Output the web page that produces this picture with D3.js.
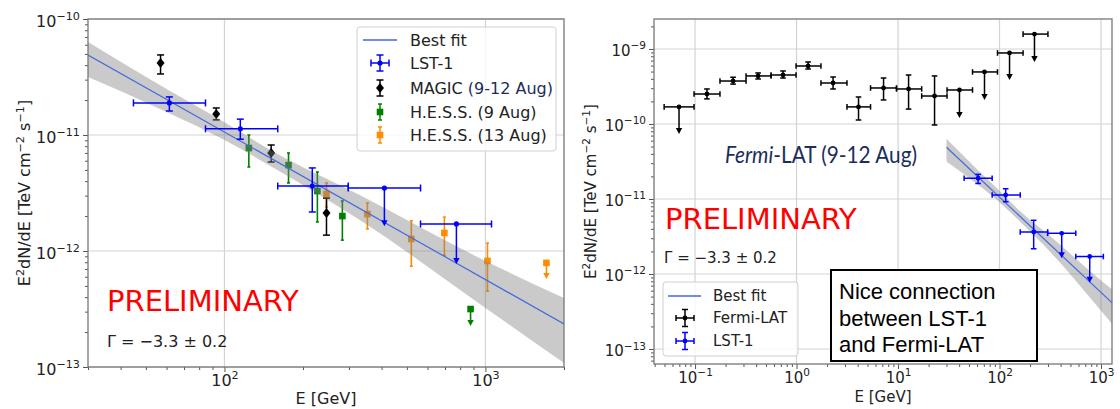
<!DOCTYPE html>
<html>
<head>
<meta charset="utf-8">
<script src="https://cdn.jsdelivr.net/npm/d3@7"></script>
<style>
  body { margin: 0; background: #fff; }
</style>
</head>
<body>
<div id="chart"></div>
<script>
// ---- LST-1 (shared by both panels) ----
const lstE   = [61.5, 115, 217, 410, 774];
const lstELo = [44.8, 84.6, 160, 298, 564];
const lstEHi = [84.6, 160, 298, 564, 1055];
const lstF   = [1.89e-11, 1.13e-11, 3.63e-12, 3.49e-12, 1.71e-12];
const lstFLo = [1.61e-11, 9.2e-12, 2.17e-12, 1.67e-12, 7.9e-13];
const lstFHi = [2.13e-11, 1.37e-11, 5.2e-12, 3.49e-12, 1.71e-12];
const lstUL  = [false, false, false, true, true];

// ---- MAGIC (9-12 Aug) ----
const magicE   = [56.9, 93, 151, 246];
const magicF   = [4.18e-11, 1.52e-11, 7.0e-12, 2.13e-12];
const magicFLo = [3.36e-11, 1.35e-11, 5.85e-12, 1.37e-12];
const magicFHi = [4.9e-11, 1.71e-11, 8.2e-12, 2.86e-12];

// ---- H.E.S.S. (9 Aug) ----
const hess9E   = [124, 176, 227, 283, 877];
const hess9F   = [7.72e-12, 5.5e-12, 3.29e-12, 2.0e-12, 3.16e-13];
const hess9FLo = [5.3e-12, 3.86e-12, 1.78e-12, 1.24e-12, 2.3e-13];
const hess9FHi = [1.0e-11, 7.0e-12, 4.8e-12, 2.7e-12, 3.16e-13];
const hess9UL  = [false, false, false, false, true];

// ---- H.E.S.S. (13 Aug) ----
const hess13E   = [246, 353, 520, 696, 1018, 1713];
const hess13F   = [3.1e-12, 2.08e-12, 1.27e-12, 1.43e-12, 8.2e-13, 7.9e-13];
const hess13FLo = [2.39e-12, 1.55e-12, 7.4e-13, 9.2e-13, 4.5e-13, 5.85e-13];
const hess13FHi = [3.86e-12, 2.6e-12, 1.82e-12, 1.96e-12, 1.17e-12, 7.9e-13];
const hess13UL  = [false, false, false, false, false, true];

// ---- Fermi-LAT (9-12 Aug) ----
const fermiE   = [0.0695, 0.131, 0.237, 0.418, 0.736, 1.30, 2.29, 4.08, 7.2, 12.7, 22.9, 40.3, 71.1, 125.5, 221];
const fermiELo = [0.0496, 0.0977, 0.176, 0.318, 0.561, 0.989, 1.74, 3.14, 5.36, 9.66, 17.1, 30.4, 54.2, 95.5, 170.6];
const fermiEHi = [0.0977, 0.176, 0.318, 0.561, 0.989, 1.74, 3.14, 5.36, 9.66, 17.1, 30.4, 54.2, 95.5, 170.6, 300];
const fermiF   = [1.69e-10, 2.51e-10, 3.74e-10, 4.37e-10, 4.5e-10, 5.93e-10, 3.52e-10, 1.69e-10, 3.02e-10, 2.93e-10, 2.36e-10, 2.84e-10, 4.94e-10, 8.85e-10, 1.58e-9];
const fermiFLo = [7.6e-11, 2.16e-10, 3.4e-10, 3.98e-10, 4.1e-10, 5.41e-10, 2.93e-10, 1.13e-10, 2.09e-10, 1.58e-10, 9.7e-11, 1.24e-10, 2.16e-10, 3.98e-10, 6.9e-10];
const fermiFHi = [1.69e-10, 2.93e-10, 4.2e-10, 4.79e-10, 5.09e-10, 6.71e-10, 4.23e-10, 2.29e-10, 4.1e-10, 4.5e-10, 4.37e-10, 2.84e-10, 4.94e-10, 8.85e-10, 1.58e-9];
const fermiUL  = [true, false, false, false, false, false, false, false, false, false, false, true, true, true, true];

// ---- best fit and its band ----
const fitE   = [30, 2000];
const fitF   = [4.9e-11, 2.35e-13];
const bandE  = [30, 60, 100, 150, 330, 1000, 2000];
const bandHi = [6.34e-11, 2.49e-11, 1.29e-11, 7.43e-12, 3.04e-12, 8.2e-13, 3.94e-13];
const bandLo = [3.16e-11, 1.58e-11, 9.05e-12, 5.41e-12, 1.85e-12, 3.23e-13, 1.08e-13];

// ---- tick labels ----
const leftXTicks  = [100, 1000];
const leftYTicks  = [1e-13, 1e-12, 1e-11, 1e-10];
const rightXTicks = [0.1, 1, 10, 100, 1000];
const rightYTicks = [1e-13, 1e-12, 1e-11, 1e-10, 1e-9];

const width = 1120, height = 409;
const FONT = "DejaVu Sans";

const svg = d3.select("#chart").append("svg")
  .attr("width", width)
  .attr("height", height)
  .style("font-family", FONT);

function minorTicks(dom) {
  const out = [];
  for (let k = Math.floor(Math.log10(dom[0])); k <= Math.ceil(Math.log10(dom[1])); k++) {
    for (let m = 2; m <= 9; m++) {
      const v = m * Math.pow(10, k);
      if (v >= dom[0] && v <= dom[1]) out.push(v);
    }
  }
  return out;
}

function supLabel(sel, fs) {
  sel.each(function(d) {
    const t = d3.select(this);
    const exp = Math.round(Math.log10(d));
    t.text(null);
    t.append("tspan").text("10");
    t.append("tspan").attr("dy", -fs * 0.45).attr("font-size", fs * 0.7)
      .text(exp < 0 ? "\u2212" + (-exp) : exp);
  });
}

function makePanel(p) {
  const x = d3.scaleLog().domain(p.xDom).range([p.x0, p.x1]);
  const y = d3.scaleLog().domain(p.yDom).range([p.y1, p.y0]);
  const g = svg.append("g");

  svg.append("clipPath").attr("id", "clip" + p.name)
    .append("rect")
    .attr("x", p.x0).attr("y", p.y0)
    .attr("width", p.x1 - p.x0).attr("height", p.y1 - p.y0);

  // grid
  g.selectAll(".gx").data(p.xTicks).enter().append("line")
    .attr("x1", d => x(d)).attr("x2", d => x(d))
    .attr("y1", p.y0).attr("y2", p.y1)
    .attr("stroke", "#d3d3d3").attr("stroke-width", 1.2);
  g.selectAll(".gy").data(p.yTicks).enter().append("line")
    .attr("y1", d => y(d)).attr("y2", d => y(d))
    .attr("x1", p.x0).attr("x2", p.x1)
    .attr("stroke", "#d3d3d3").attr("stroke-width", 1.2);

  const plot = g.append("g").attr("clip-path", `url(#clip${p.name})`);
  return { x, y, g, plot, p };
}

function drawAxes(P) {
  const { x, y, g, p } = P;
  const fs = p.fs;

  g.append("g").attr("transform", `translate(0,${p.y1})`)
    .call(d3.axisBottom(x).tickValues(minorTicks(p.xDom)).tickSize(3).tickFormat(""))
    .call(a => a.select(".domain").remove());
  g.append("g").attr("transform", `translate(${p.x0},0)`)
    .call(d3.axisLeft(y).tickValues(minorTicks(p.yDom)).tickSize(3).tickFormat(""))
    .call(a => a.select(".domain").remove());

  const ax = g.append("g").attr("transform", `translate(0,${p.y1})`)
    .call(d3.axisBottom(x).tickValues(p.xTicks).tickSize(5).tickPadding(3));
  ax.select(".domain").remove();
  ax.selectAll("text").attr("font-size", fs).attr("font-family", FONT).attr("fill", "#222")
    .call(supLabel, fs);

  const ay = g.append("g").attr("transform", `translate(${p.x0},0)`)
    .call(d3.axisLeft(y).tickValues(p.yTicks).tickSize(5).tickPadding(3));
  ay.select(".domain").remove();
  ay.selectAll("text").attr("font-size", fs).attr("font-family", FONT).attr("fill", "#222")
    .attr("dy", "0.45em")
    .call(supLabel, fs);

  g.selectAll(".tick line").attr("stroke", "#555");

  g.append("rect")
    .attr("x", p.x0).attr("y", p.y0)
    .attr("width", p.x1 - p.x0).attr("height", p.y1 - p.y0)
    .attr("fill", "none").attr("stroke", "#777").attr("stroke-width", 1.3);

  // axis titles
  g.append("text")
    .attr("x", (p.x0 + p.x1) / 2).attr("y", p.xLabelY)
    .attr("text-anchor", "middle").attr("font-size", fs).attr("fill", "#222")
    .text("E [GeV]");

  const yl = g.append("text")
    .attr("transform", `translate(${p.yLabelX},${(p.y0 + p.y1) / 2}) rotate(-90)`)
    .attr("text-anchor", "middle").attr("font-size", fs).attr("fill", "#222");
  yl.append("tspan").text("E");
  yl.append("tspan").attr("dy", -fs * 0.4).attr("font-size", fs * 0.7).text("2");
  yl.append("tspan").attr("dy", fs * 0.4).text("dN/dE [TeV cm");
  yl.append("tspan").attr("dy", -fs * 0.4).attr("font-size", fs * 0.7).text("\u22122");
  yl.append("tspan").attr("dy", fs * 0.4).text(" s");
  yl.append("tspan").attr("dy", -fs * 0.4).attr("font-size", fs * 0.7).text("\u22121");
  yl.append("tspan").attr("dy", fs * 0.4).text("]");
}

function marker(layer, cx, cy, type, size, color) {
  if (type === "dot") {
    layer.append("circle").attr("cx", cx).attr("cy", cy).attr("r", size).attr("fill", color);
  } else if (type === "diamond") {
    layer.append("path")
      .attr("d", `M${cx},${cy - size}L${cx + size * 0.8},${cy}L${cx},${cy + size}L${cx - size * 0.8},${cy}Z`)
      .attr("fill", color);
  } else if (type === "square") {
    layer.append("rect").attr("x", cx - size).attr("y", cy - size)
      .attr("width", size * 2).attr("height", size * 2).attr("fill", color);
  }
}

function arrowHead(layer, cx, cy, color) {
  layer.append("path")
    .attr("d", `M${cx - 3.2},${cy - 5}L${cx + 3.2},${cy - 5}L${cx},${cy + 1}Z`)
    .attr("fill", color);
}

function errorbars(layer, x, y, s) {
  const lw = s.lw || 1.5;
  s.e.forEach((e, i) => {
    const cx = x(e), cy = y(s.f[i]);
    const gg = layer.append("g").attr("stroke", s.color).attr("stroke-width", lw);
    if (s.eLo) {
      const xa = x(s.eLo[i]), xb = x(s.eHi[i]);
      gg.append("line").attr("x1", xa).attr("x2", xb).attr("y1", cy).attr("y2", cy);
      gg.append("line").attr("x1", xa).attr("x2", xa).attr("y1", cy - s.cap).attr("y2", cy + s.cap);
      gg.append("line").attr("x1", xb).attr("x2", xb).attr("y1", cy - s.cap).attr("y2", cy + s.cap);
    }
    if (s.ul && s.ul[i]) {
      const yb = y(s.fLo[i]);
      gg.append("line").attr("x1", cx).attr("x2", cx).attr("y1", cy).attr("y2", yb - 3);
      arrowHead(layer, cx, yb, s.color);
    } else {
      const ya = y(s.fHi[i]), yb = y(s.fLo[i]);
      gg.append("line").attr("x1", cx).attr("x2", cx).attr("y1", ya).attr("y2", yb);
      gg.append("line").attr("x1", cx - s.cap).attr("x2", cx + s.cap).attr("y1", ya).attr("y2", ya);
      gg.append("line").attr("x1", cx - s.cap).attr("x2", cx + s.cap).attr("y1", yb).attr("y2", yb);
    }
    marker(layer, cx, cy, s.marker, s.size, s.color);
  });
}

function fitBand(layer, x, y) {
  const band = d3.area()
    .x((d, i) => x(d))
    .y0((d, i) => y(bandLo[i]))
    .y1((d, i) => y(bandHi[i]))
    .curve(d3.curveMonotoneX);
  layer.append("path").attr("d", band(bandE))
    .attr("fill", "gray").attr("fill-opacity", 0.42);
  const line = d3.line().x((d, i) => x(d)).y((d, i) => y(fitF[i]));
  layer.append("path").attr("d", line(fitE))
    .attr("fill", "none").attr("stroke", "royalblue").attr("stroke-width", 1.2);
}

// legend glyph helpers (drawn at fixed handle positions)
function legendErr(g, cx, cy, color, type, size, hx, vy, cap) {
  const gg = g.append("g").attr("stroke", color).attr("stroke-width", 1.5);
  if (hx) {
    gg.append("line").attr("x1", cx - hx).attr("x2", cx + hx).attr("y1", cy).attr("y2", cy);
    gg.append("line").attr("x1", cx - hx).attr("x2", cx - hx).attr("y1", cy - cap).attr("y2", cy + cap);
    gg.append("line").attr("x1", cx + hx).attr("x2", cx + hx).attr("y1", cy - cap).attr("y2", cy + cap);
  }
  gg.append("line").attr("x1", cx).attr("x2", cx).attr("y1", cy - vy).attr("y2", cy + vy);
  gg.append("line").attr("x1", cx - cap).attr("x2", cx + cap).attr("y1", cy - vy).attr("y2", cy - vy);
  gg.append("line").attr("x1", cx - cap).attr("x2", cx + cap).attr("y1", cy + vy).attr("y2", cy + vy);
  marker(g, cx, cy, type, size, color);
}

// ================= LEFT PANEL =================
const L = makePanel({
  name: "L", x0: 88, x1: 564, y0: 19, y1: 367,
  xDom: [30, 2000], yDom: [1e-13, 1e-10],
  xTicks: leftXTicks, yTicks: leftYTicks, fs: 16,
  xLabelY: 404, yLabelX: 30
});

errorbars(L.plot, L.x, L.y, { e: hess9E, f: hess9F, fLo: hess9FLo, fHi: hess9FHi, ul: hess9UL,
  color: "green", marker: "square", size: 3.3, cap: 1.5, lw: 1.6 });
errorbars(L.plot, L.x, L.y, { e: hess13E, f: hess13F, fLo: hess13FLo, fHi: hess13FHi, ul: hess13UL,
  color: "darkorange", marker: "square", size: 3.3, cap: 1.5, lw: 1.6 });
errorbars(L.plot, L.x, L.y, { e: magicE, f: magicF, fLo: magicFLo, fHi: magicFHi,
  color: "black", marker: "diamond", size: 5, cap: 3.5, lw: 1.5 });
fitBand(L.plot, L.x, L.y);
errorbars(L.plot, L.x, L.y, { e: lstE, eLo: lstELo, eHi: lstEHi, f: lstF, fLo: lstFLo, fHi: lstFHi, ul: lstUL,
  color: "blue", marker: "dot", size: 2.6, cap: 3.5, lw: 1.5 });

drawAxes(L);

L.g.append("text").attr("x", 107).attr("y", 311)
  .attr("font-size", 29).attr("fill", "red").text("PRELIMINARY");
L.g.append("text").attr("x", 107).attr("y", 347)
  .attr("font-size", 16).attr("fill", "#222").text("\u0393 = \u22123.3 \u00b1 0.2");

// left legend
const lg = L.g.append("g");
lg.append("rect").attr("x", 357).attr("y", 27).attr("width", 199).attr("height", 124)
  .attr("rx", 3).attr("fill", "white").attr("fill-opacity", 0.8)
  .attr("stroke", "#d0d0d0");
const lRows = [40, 63, 88, 112, 135];
lg.append("line").attr("x1", 363).attr("x2", 397).attr("y1", lRows[0]).attr("y2", lRows[0])
  .attr("stroke", "royalblue").attr("stroke-width", 1.3);
legendErr(lg, 380, lRows[1], "blue", "dot", 2.6, 9, 8, 3.5);
legendErr(lg, 380, lRows[2], "black", "diamond", 5, 0, 8, 3.5);
legendErr(lg, 380, lRows[3], "green", "square", 3.3, 0, 8, 2);
legendErr(lg, 380, lRows[4], "darkorange", "square", 3.3, 0, 8, 2);
const lLab = ["Best fit", "LST-1", "MAGIC ", "H.E.S.S. (9 Aug)", "H.E.S.S. (13 Aug)"];
lLab.forEach((t, i) => {
  const tx = lg.append("text").attr("x", 410).attr("y", lRows[i]).attr("dy", "0.36em")
    .attr("font-size", 16).attr("fill", "#222").text(t);
  if (i === 2) tx.append("tspan").attr("fill", "#1b2d5a").text("(9-12 Aug)");
});

// ================= RIGHT PANEL =================
const R = makePanel({
  name: "R", x0: 654, x1: 1112, y0: 19, y1: 364,
  xDom: [0.0394, 1283], yDom: [6.31e-14, 2.51e-9],
  xTicks: rightXTicks, yTicks: rightYTicks, fs: 15,
  xLabelY: 402, yLabelX: 596
});

fitBand(R.plot, R.x, R.y);
errorbars(R.plot, R.x, R.y, { e: fermiE, eLo: fermiELo, eHi: fermiEHi, f: fermiF, fLo: fermiFLo, fHi: fermiFHi, ul: fermiUL,
  color: "black", marker: "dot", size: 2.4, cap: 2.8, lw: 1.5 });
errorbars(R.plot, R.x, R.y, { e: lstE, eLo: lstELo, eHi: lstEHi, f: lstF, fLo: lstFLo, fHi: lstFHi, ul: lstUL,
  color: "blue", marker: "dot", size: 2.4, cap: 2.8, lw: 1.5 });

drawAxes(R);

const ft = R.g.append("text").attr("x", 725).attr("y", 163)
  .attr("font-family", "Lato").attr("font-size", 23).attr("fill", "#1b2d5a")
  .attr("textLength", 192).attr("lengthAdjust", "spacingAndGlyphs");
ft.append("tspan").attr("font-style", "italic").text("Fermi");
ft.append("tspan").text("-LAT (9-12 Aug)");

R.g.append("text").attr("x", 665).attr("y", 229)
  .attr("font-size", 29).attr("fill", "red").text("PRELIMINARY");
R.g.append("text").attr("x", 664).attr("y", 263)
  .attr("font-size", 15).attr("fill", "#222").text("\u0393 = \u22123.3 \u00b1 0.2");

// right legend
const rg = R.g.append("g");
rg.append("rect").attr("x", 663).attr("y", 282).attr("width", 135).attr("height", 74)
  .attr("rx", 3).attr("fill", "white").attr("fill-opacity", 0.8)
  .attr("stroke", "#d0d0d0");
const rRows = [296, 318, 341];
rg.append("line").attr("x1", 668).attr("x2", 701).attr("y1", rRows[0]).attr("y2", rRows[0])
  .attr("stroke", "royalblue").attr("stroke-width", 1.3);
legendErr(rg, 685, rRows[1], "black", "dot", 2.4, 9, 8.5, 3);
legendErr(rg, 685, rRows[2], "blue", "dot", 2.4, 9, 8.5, 3);
["Best fit", "Fermi-LAT", "LST-1"].forEach((t, i) => {
  rg.append("text").attr("x", 713).attr("y", rRows[i]).attr("dy", "0.36em")
    .attr("font-size", 15).attr("fill", "#222").text(t);
});

// note box
const nb = R.g.append("g");
nb.append("rect").attr("x", 831).attr("y", 270).attr("width", 206).attr("height", 91)
  .attr("fill", "white").attr("stroke", "black").attr("stroke-width", 2);
["Nice connection", "between LST-1", "and Fermi-LAT"].forEach((t, i) => {
  nb.append("text").attr("x", 839).attr("y", 299 + i * 26.5)
    .attr("font-family", "Liberation Sans").attr("font-size", 22).attr("fill", "black").text(t);
});
</script>
</body>
</html>
